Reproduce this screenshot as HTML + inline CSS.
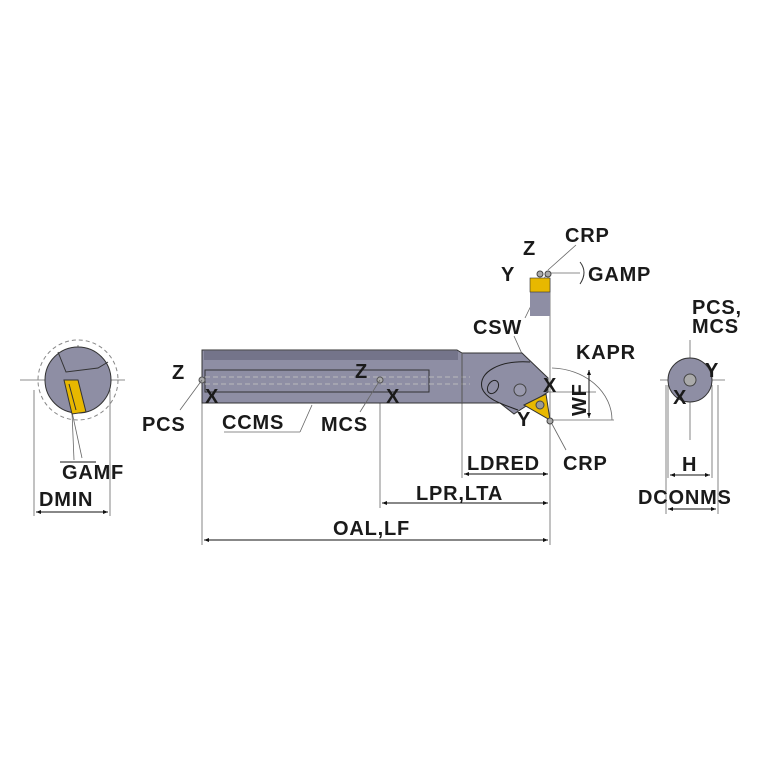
<!DOCTYPE html>
<html><head><meta charset="utf-8"><style>
html,body{margin:0;padding:0;background:#fff;}
svg{display:block}
text{font-family:"Liberation Sans",Arial,sans-serif;font-weight:bold;font-size:20px;letter-spacing:0.8px;fill:#1a1a1a}
</style></head><body>
<svg width="767" height="767" viewBox="0 0 767 767" xmlns="http://www.w3.org/2000/svg">
<defs>
<marker id="a" viewBox="0 0 10 10" refX="10" refY="5" markerWidth="7" markerHeight="5" orient="auto-start-reverse"><path d="M0,1 L10,5 L0,9z" fill="#111"/></marker>
</defs>
<g stroke="#666" stroke-width="0.8" fill="none">
<line x1="202" y1="395" x2="202" y2="545"/>
<line x1="380" y1="395" x2="380" y2="508"/>
<line x1="462" y1="380" x2="462" y2="478"/>
<line x1="550" y1="278" x2="550" y2="545"/>
<line x1="34" y1="390" x2="34" y2="516"/>
<line x1="110" y1="390" x2="110" y2="516"/>
<line x1="666" y1="385" x2="666" y2="514"/>
<line x1="718" y1="385" x2="718" y2="514"/>
<line x1="668" y1="385" x2="668" y2="478"/>
<line x1="712" y1="385" x2="712" y2="478"/>
<line x1="690" y1="340" x2="690" y2="440"/>
<line x1="660" y1="380" x2="725" y2="380"/>
<line x1="20" y1="380" x2="125" y2="380"/>
<line x1="78" y1="345" x2="78" y2="400"/>
<path d="M552,368 A62,52 0 0 1 612,420"/>
<line x1="552" y1="420" x2="614" y2="420"/>
<line x1="548" y1="392" x2="596" y2="392"/>
<line x1="514" y1="336" x2="535" y2="383"/>
<line x1="546" y1="275" x2="525" y2="318"/>
<line x1="552" y1="424" x2="566" y2="450"/>
<line x1="548" y1="273" x2="580" y2="273"/>
<line x1="576" y1="245" x2="548" y2="270"/>
<line x1="72" y1="412" x2="74" y2="460"/>
<line x1="72" y1="412" x2="82" y2="458"/>
</g>
<g stroke="#111" stroke-width="1" fill="none">
<line x1="464" y1="474" x2="548" y2="474" marker-start="url(#a)" marker-end="url(#a)"/>
<line x1="382" y1="503" x2="548" y2="503" marker-start="url(#a)" marker-end="url(#a)"/>
<line x1="204" y1="540" x2="548" y2="540" marker-start="url(#a)" marker-end="url(#a)"/>
<line x1="36" y1="512" x2="108" y2="512" marker-start="url(#a)" marker-end="url(#a)"/>
<line x1="670" y1="475" x2="710" y2="475" marker-start="url(#a)" marker-end="url(#a)"/>
<line x1="668" y1="509" x2="716" y2="509" marker-start="url(#a)" marker-end="url(#a)"/>
<line x1="589" y1="370" x2="589" y2="418" marker-start="url(#a)" marker-end="url(#a)"/>
<line x1="60" y1="462" x2="96" y2="462"/>
</g>
<circle cx="78" cy="380" r="40" fill="none" stroke="#888" stroke-dasharray="4,3"/>
<circle cx="78" cy="380" r="33" fill="#8e8ea4" stroke="#333"/>
<path d="M58,352 L66,372 L98,368 L108,362" fill="none" stroke="#333"/>
<polygon points="64,380 78,380 86,412 72,414" fill="#e8b800" stroke="#333"/>
<line x1="69" y1="384" x2="76" y2="410" stroke="#333"/>
<path d="M202,350 L457,350 L462,353 L522,353 L548,378 L548,392 L520,410 L514,414 L500,403 L202,403 Z" fill="#8e8ea4" stroke="#333"/>
<rect x="204" y="351" width="254" height="9" fill="#74748a"/>
<rect x="205" y="370" width="224" height="22" fill="none" stroke="#333"/>
<line x1="205" y1="377" x2="470" y2="377" stroke="#bbb" stroke-dasharray="5,3"/>
<line x1="205" y1="384" x2="470" y2="384" stroke="#bbb" stroke-dasharray="5,3"/>
<line x1="462" y1="353" x2="462" y2="403" stroke="#555"/>
<path d="M530,362 C500,360 478,372 482,388 C486,400 505,405 518,410" fill="none" stroke="#222"/>
<ellipse cx="493" cy="387" rx="5" ry="7" transform="rotate(30 493 387)" fill="none" stroke="#222"/>
<circle cx="520" cy="390" r="6" fill="#9a9aae" stroke="#444"/>
<polygon points="524,405 546,394 550,420" fill="#e8b800" stroke="#333"/>
<circle cx="540" cy="405" r="4" fill="#999" stroke="#444"/>
<circle cx="550" cy="421" r="3" fill="#aaa" stroke="#444"/>
<circle cx="202" cy="380" r="3" fill="#aaa" stroke="#555"/>
<circle cx="380" cy="380" r="3" fill="#aaa" stroke="#555"/>
<line x1="202" y1="380" x2="180" y2="410" stroke="#666" stroke-width=".8"/>
<line x1="380" y1="380" x2="360" y2="412" stroke="#666" stroke-width=".8"/>
<line x1="224" y1="432" x2="300" y2="432" stroke="#666" stroke-width=".8"/>
<line x1="300" y1="432" x2="312" y2="405" stroke="#666" stroke-width=".8"/>
<rect x="530" y="278" width="20" height="38" fill="#8e8ea4"/>
<rect x="530" y="278" width="20" height="14" fill="#e8b800" stroke="#333" stroke-width=".6"/>
<circle cx="540" cy="274" r="3" fill="#aaa" stroke="#444"/>
<circle cx="548" cy="274" r="3" fill="#aaa" stroke="#444"/>
<path d="M580,262 q8,10 0,22" fill="none" stroke="#333"/>
<circle cx="690" cy="380" r="22" fill="#8e8ea4" stroke="#333"/>
<circle cx="690" cy="380" r="6" fill="#aaa" stroke="#444"/>
<text x="172" y="379">Z</text>
<text x="355" y="378">Z</text>
<text x="205" y="403">X</text>
<text x="386" y="403">X</text>
<text x="142" y="431">PCS</text>
<text x="222" y="429">CCMS</text>
<text x="321" y="431">MCS</text>
<text x="523" y="255">Z</text>
<text x="501" y="281">Y</text>
<text x="565" y="242">CRP</text>
<text x="588" y="281">GAMP</text>
<text x="473" y="334">CSW</text>
<text x="576" y="359">KAPR</text>
<text x="543" y="392">X</text>
<text x="517" y="426">Y</text>
<text x="563" y="470">CRP</text>
<text x="467" y="470">LDRED</text>
<text x="416" y="500">LPR,LTA</text>
<text x="333" y="535">OAL,LF</text>
<text x="62" y="479">GAMF</text>
<text x="39" y="506">DMIN</text>
<text x="692" y="314">PCS,</text>
<text x="692" y="333">MCS</text>
<text x="705" y="377">Y</text>
<text x="673" y="404">X</text>
<text x="682" y="471">H</text>
<text x="638" y="504">DCONMS</text>
<text transform="translate(586,416) rotate(-90)">WF</text>
</svg>
</body></html>
